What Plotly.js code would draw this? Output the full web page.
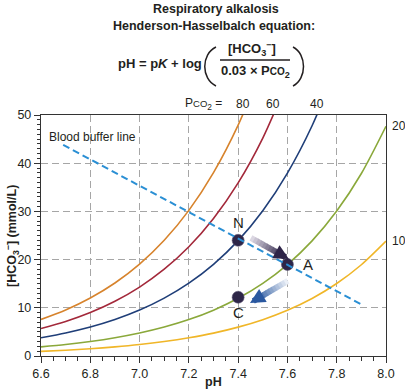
<!DOCTYPE html>
<html>
<head>
<meta charset="utf-8">
<script src="https://cdn.plot.ly/plotly-3.0.1.min.js"></script>
<style>
html,body{margin:0;padding:0;background:#fff;}
#chart{width:405px;height:391px;}
</style>
</head>
<body>
<div id="chart"></div>
<script>
// ---- data ----
const phGrid = [6.6, 6.7, 6.8, 6.9, 7.0, 7.1, 7.2, 7.3, 7.4, 7.5, 7.6, 7.7, 7.8, 7.9, 8.0];
const hco3_80 = [7.59, 9.55, 12.03, 15.14, 19.06, 24.0, 30.21, 38.04, 47.89, 60.28];
const hco3_60 = [5.69, 7.17, 9.02, 11.36, 14.30, 18.0, 22.66, 28.53, 35.92, 45.22, 56.92];
const hco3_40 = [3.79, 4.78, 6.01, 7.57, 9.53, 12.0, 15.11, 19.02, 23.94, 30.14, 37.95, 47.77, 60.14];
const hco3_20 = [1.90, 2.39, 3.01, 3.79, 4.77, 6.0, 7.55, 9.51, 11.97, 15.07, 18.97, 23.89, 30.07, 37.86, 47.66];
const hco3_10 = [0.95, 1.19, 1.50, 1.89, 2.38, 3.0, 3.78, 4.75, 5.99, 7.54, 9.49, 11.94, 15.04, 18.93, 23.83];
const topLabels = ['80', '60', '40'];
const topLabelPH = [7.42, 7.54, 7.72];
const rightLabels = ['20', '10'];
const rightLabelHCO3 = [47.7, 23.8];
const bufferPH = [6.69, 7.9];
const bufferHCO3 = [43.8, 10.7];
const pointNames = ['N', 'A', 'C'];
const pointPH = [7.4, 7.6, 7.4];
const pointHCO3 = [24.0, 19.0, 12.2];
const arrowTailPH = [7.452, 7.602];
const arrowTailHCO3 = [24.5, 15.6];
const arrowTipPH = [7.606, 7.448];
const arrowTipHCO3 = [20.1, 11.0];

// ---- layout helpers ----
const W = 405, H = 391, L = 41, R = 19, T = 115, B = 35;
const PW = W - L - R, PH = H - T - B;
const px = x => (x - L) / PW;
const py = y => (H - B - y) / PH;
const FONT = 'Liberation Sans, Arial, Helvetica, sans-serif';
const INK = '#231f20';

const colors = {80: '#d7832c', 60: '#a3283a', 40: '#1f3e78', 20: '#8aa83a', 10: '#f0b628'};

function curve(arr, c) {
  return {x: phGrid.slice(0, arr.length), y: arr, type: 'scatter', mode: 'lines',
    line: {color: c, width: 1.6, shape: 'spline', smoothing: 0.8}, hoverinfo: 'skip', showlegend: false};
}

const traces = [
  curve(hco3_80, colors[80]),
  curve(hco3_60, colors[60]),
  curve(hco3_40, colors[40]),
  curve(hco3_20, colors[20]),
  curve(hco3_10, colors[10]),
  {x: pointPH, y: pointHCO3, type: 'scatter', mode: 'markers',
    marker: {size: 12, color: '#2e2648', line: {width: 0.6, color: '#5c5674'}}, showlegend: false, hoverinfo: 'skip'},
  {x: bufferPH, y: bufferHCO3, type: 'scatter', mode: 'lines',
    line: {color: '#2a8fd4', width: 2, dash: '7px,4px'}, showlegend: false, hoverinfo: 'skip'}
];

// gradient arrows
function hex2rgb(h){return [parseInt(h.slice(1,3),16),parseInt(h.slice(3,5),16),parseInt(h.slice(5,7),16)];}
function mix(a, b, t){const A=hex2rgb(a),B2=hex2rgb(b);return 'rgb('+A.map((v,i)=>Math.round(v+(B2[i]-v)*t)).join(',')+')';}
const shapes = [];
const annotations = [];
const arrowColors = [['#e4e0ea', '#2e2448'], ['#f4f7fb', '#2a58a0']];
for (let k = 0; k < 2; k++) {
  const x0 = arrowTailPH[k], y0 = arrowTailHCO3[k], x1 = arrowTipPH[k], y1 = arrowTipHCO3[k];
  const n = 10, stop = 0.78;
  for (let i = 0; i < n; i++) {
    const a = stop * i / n, b = stop * (i + 1) / n + 0.01;
    shapes.push({type: 'line', xref: 'x', yref: 'y', layer: 'above',
      x0: x0 + (x1 - x0) * a, y0: y0 + (y1 - y0) * a, x1: x0 + (x1 - x0) * b, y1: y0 + (y1 - y0) * b,
      line: {color: mix(arrowColors[k][0], arrowColors[k][1], (i + 0.5) / n * 0.95), width: 6}});
  }
  annotations.push({x: x1, y: y1, ax: x0 + (x1 - x0) * stop, ay: y0 + (y1 - y0) * stop,
    xref: 'x', yref: 'y', axref: 'x', ayref: 'y', text: '', showarrow: true,
    arrowhead: 2, arrowsize: 0.5, arrowwidth: 6, arrowcolor: arrowColors[k][1]});
}

// point labels
const labelShift = [[0, 18], [21, 0], [0, -15]];
pointNames.forEach((t, i) => annotations.push({x: pointPH[i], y: pointHCO3[i], xref: 'x', yref: 'y',
  text: t, showarrow: false, xshift: labelShift[i][0], yshift: labelShift[i][1],
  font: {family: FONT, size: 15, color: INK}}));

// PCO2 labels on top
annotations.push({x: px(224), y: py(104), xref: 'paper', yref: 'paper', xanchor: 'right', yanchor: 'middle',
  text: 'P<span style="font-size:9.5px">CO</span><sub>2</sub> =', showarrow: false, font: {family: FONT, size: 12, color: INK}});
topLabels.forEach((t, i) => annotations.push({x: topLabelPH[i], y: py(104), xref: 'x', yref: 'paper', yanchor: 'middle',
  text: t, showarrow: false, font: {family: FONT, size: 12, color: INK}}));
rightLabels.forEach((t, i) => annotations.push({x: px(390), y: rightLabelHCO3[i], xref: 'paper', yref: 'y', xanchor: 'left', yanchor: 'middle',
  text: t, showarrow: false, font: {family: FONT, size: 12, color: INK}}));

annotations.push({x: px(47), y: py(137), xref: 'paper', yref: 'paper', xanchor: 'left', yanchor: 'middle',
  text: 'Blood buffer line', showarrow: false, font: {family: FONT, size: 12, color: INK}});

// titles
annotations.push({x: px(216), y: py(9), xref: 'paper', yref: 'paper', yanchor: 'middle', showarrow: false,
  text: '<b>Respiratory alkalosis</b>', font: {family: FONT, size: 12.5, color: INK}});
annotations.push({x: px(214), y: py(26), xref: 'paper', yref: 'paper', yanchor: 'middle', showarrow: false,
  text: '<b>Henderson-Hasselbalch equation:</b>', font: {family: FONT, size: 12.5, color: INK}});
annotations.push({x: px(204), y: py(63), xref: 'paper', yref: 'paper', xanchor: 'right', yanchor: 'middle', showarrow: false,
  text: '<b>pH = p<i>K</i> + log</b>', font: {family: FONT, size: 13, color: INK}});
annotations.push({x: px(252), y: py(49), xref: 'paper', yref: 'paper', yanchor: 'middle', showarrow: false,
  text: '<b>[HCO<sub>3</sub><sup>−</sup>]</b>', font: {family: FONT, size: 13, color: INK}});
annotations.push({x: px(255), y: py(71), xref: 'paper', yref: 'paper', yanchor: 'middle', showarrow: false,
  text: '<b>0.03 × P<span style="font-size:10px">CO</span><sub>2</sub></b>', font: {family: FONT, size: 13, color: INK}});

// axis titles
annotations.push({x: px(213), y: py(382), xref: 'paper', yref: 'paper', yanchor: 'middle', showarrow: false,
  text: '<b>pH</b>', font: {family: FONT, size: 12.5, color: INK}});
annotations.push({x: px(12), y: py(236), xref: 'paper', yref: 'paper', xanchor: 'center', yanchor: 'middle', showarrow: false,
  textangle: -90, text: '<b>[HCO<sub>3</sub><sup>−</sup>] (mmol/L)</b>', font: {family: FONT, size: 12.5, color: INK}});

// parentheses and fraction bar
function P(x, y){return px(x) + ',' + py(y);}
shapes.push({type: 'path', xref: 'paper', yref: 'paper', path: 'M' + P(216, 47) + ' C' + P(201, 54) + ' ' + P(201, 79) + ' ' + P(216, 86),
  line: {color: INK, width: 1.5}});
shapes.push({type: 'path', xref: 'paper', yref: 'paper', path: 'M' + P(293, 47) + ' C' + P(307, 54) + ' ' + P(307, 79) + ' ' + P(293, 86),
  line: {color: INK, width: 1.5}});
shapes.push({type: 'line', xref: 'paper', yref: 'paper', x0: px(220), x1: px(290), y0: py(60), y1: py(60),
  line: {color: INK, width: 1.3}});

const axisCommon = {
  showline: true, linecolor: '#333', linewidth: 1.2, mirror: true,
  ticks: 'outside', ticklen: 6, tickwidth: 1, tickcolor: '#333',
  showgrid: true, gridcolor: '#a6a6a6', gridwidth: 1, griddash: '7px,4px',
  zeroline: false, fixedrange: true,
  tickfont: {family: FONT, size: 12.5, color: INK}
};

const layout = {
  width: W, height: H,
  margin: {l: L, r: R, t: T, b: B, pad: 0},
  paper_bgcolor: '#fff', plot_bgcolor: '#fff',
  showlegend: false,
  xaxis: Object.assign({}, axisCommon, {range: [6.6, 8.0], dtick: 0.2, tick0: 6.6, tickformat: '.1f',
    minor: {dtick: 0.05, ticks: 'outside', ticklen: 4, tickcolor: '#333', showgrid: false}}),
  yaxis: Object.assign({}, axisCommon, {range: [0, 50], dtick: 10, tick0: 0,
    minor: {dtick: 1, ticks: 'outside', ticklen: 3, tickcolor: '#333', showgrid: false}}),
  shapes: shapes,
  annotations: annotations
};

Plotly.newPlot('chart', traces, layout, {staticPlot: true, displayModeBar: false});
</script>
</body>
</html>
